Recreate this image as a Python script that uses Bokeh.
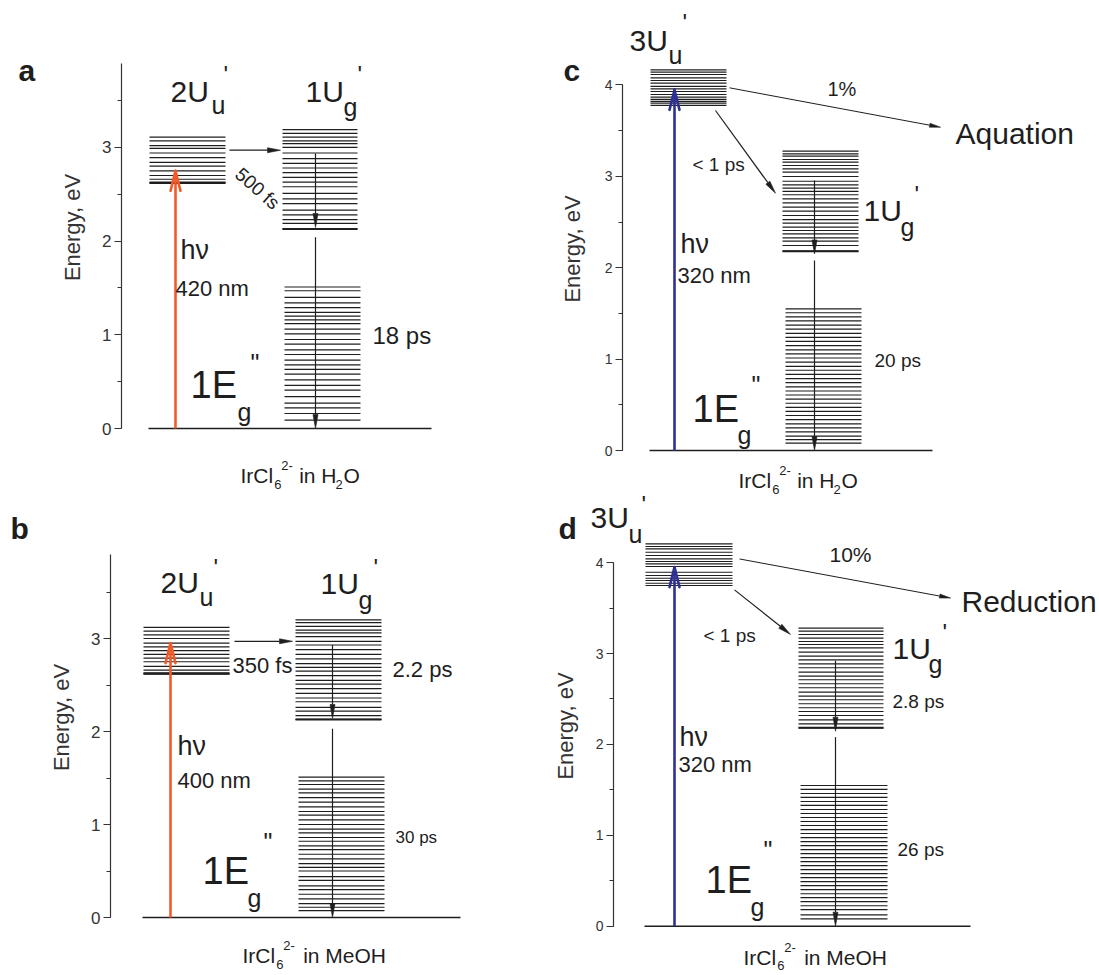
import math
from bokeh.plotting import figure
from bokeh.models import Range1d, SingleIntervalTicker, FixedTicker, Label, LinearAxis
from bokeh.embed import file_html
from bokeh.resources import INLINE

FONT = "Liberation Sans"
INK = "#1e1e1e"
AXC = "#333333"
RED = "#f15a29"
BLUE = "#2e3192"
WIDTH, HEIGHT = 1099, 975

# ---------------- data: energy levels (eV) ----------------
A_2UU = [3.11, 3.07, 3.02, 2.99, 2.94, 2.89, 2.84, 2.80, 2.75, 2.70, 2.66, 2.63, 2.62]
A_1UG = [3.19, 3.15, 3.11, 3.07, 3.04, 3.00, 2.94, 2.88, 2.83, 2.78, 2.73, 2.68, 2.63,
         2.58, 2.51, 2.45, 2.40, 2.33, 2.28, 2.23, 2.19, 2.13]
A_LOW = [1.51, 1.47, 1.40, 1.34, 1.29, 1.24, 1.20, 1.16, 1.12, 1.06, 1.01, 0.95, 0.90,
         0.84, 0.79, 0.73, 0.68, 0.63, 0.58, 0.52, 0.46, 0.41, 0.34, 0.27, 0.22, 0.16, 0.09]

B_2UU = [3.12, 3.08, 3.04, 3.00, 2.95, 2.91, 2.87, 2.83, 2.79, 2.75, 2.70, 2.66, 2.63, 2.62]
B_1UG = [3.20, 3.17, 3.13, 3.09, 3.06, 3.02, 2.97, 2.93, 2.88, 2.83, 2.78, 2.73, 2.69,
         2.65, 2.60, 2.55, 2.51, 2.46, 2.41, 2.36, 2.32, 2.26, 2.22, 2.17, 2.13]
B_LOW = [1.51, 1.47, 1.43, 1.38, 1.34, 1.29, 1.24, 1.19, 1.14, 1.10, 1.05, 1.00, 0.95,
         0.91, 0.86, 0.82, 0.77, 0.73, 0.68, 0.63, 0.58, 0.54, 0.50, 0.44, 0.40, 0.34,
         0.30, 0.25, 0.20, 0.15, 0.11, 0.075]

C_3UU = [4.165, 4.139, 4.114, 4.077, 4.048, 4.019, 3.983, 3.957, 3.928, 3.895, 3.866,
         3.841, 3.819, 3.800, 3.775]
C_1UG = [3.275, 3.246, 3.220, 3.184, 3.154, 3.118, 3.082, 3.045, 2.998, 2.946, 2.907,
         2.870, 2.834, 2.798, 2.754, 2.710, 2.662, 2.618, 2.571, 2.527, 2.487, 2.444,
         2.407, 2.371, 2.327, 2.290, 2.243, 2.181]
C_LOW = [1.550, 1.507, 1.461, 1.419, 1.372, 1.328, 1.281, 1.238, 1.193, 1.147, 1.102,
         1.058, 1.012, 0.967, 0.921, 0.878, 0.832, 0.786, 0.742, 0.697, 0.651, 0.607,
         0.562, 0.517, 0.472, 0.427, 0.383, 0.337, 0.292, 0.248, 0.203, 0.158, 0.119, 0.080]

D_3UU = [4.207, 4.177, 4.152, 4.114, 4.078, 4.041, 4.012, 3.986, 3.957, 3.894, 3.858,
         3.828, 3.803, 3.773, 3.748]
D_1UG = [3.279, 3.246, 3.209, 3.169, 3.132, 3.099, 3.062, 3.015, 2.971, 2.930, 2.886,
         2.843, 2.795, 2.751, 2.711, 2.667, 2.623, 2.575, 2.531, 2.491, 2.447, 2.403,
         2.362, 2.318, 2.270, 2.226, 2.182]
D_LOW = [1.548, 1.505, 1.460, 1.418, 1.372, 1.330, 1.284, 1.240, 1.196, 1.152, 1.108,
         1.063, 1.020, 0.975, 0.931, 0.887, 0.843, 0.799, 0.755, 0.710, 0.667, 0.622,
         0.578, 0.534, 0.490, 0.446, 0.402, 0.357, 0.314, 0.270, 0.225, 0.182, 0.125, 0.080]

GROUND = [0.0]

# transitions (eV)
A_PUMP = [0.0, 2.75]
A_TRANSFER = [2.97, 2.97]
A_RELAX = [[2.935, 2.145], [2.04, 0.0]]
B_PUMP = [0.0, 2.95]
B_TRANSFER = [2.97, 2.97]
B_RELAX = [[2.93, 2.14], [2.03, 0.0]]
C_PUMP = [0.0, 3.946]
C_CHANNEL = [3.968, 3.537]
C_CONVERT = [3.72, 2.815]
C_RELAX = [[2.954, 2.15], [2.079, 0.0]]
D_PUMP = [0.0, 3.95]
D_CHANNEL = [4.04, 3.61]
D_CONVERT = [3.70, 3.21]
D_RELAX = [[2.92, 2.145], [2.08, 0.0]]

# ---------------- layout of the four panels (page pixels) ----------------
PA = dict(name="a", axis_x=121, y0=428, k=93.7, top=3.9, tick=17, lab_lo=0.39, lab_stand=37)
PB = dict(name="b", axis_x=110, y0=917, k=93.0, top=3.9, tick=17, lab_lo=0.40, lab_stand=37)
PC = dict(name="c", axis_x=622, y0=450, k=91.4, top=4.0, tick=14, lab_lo=0.40, lab_stand=38)
PD = dict(name="d", axis_x=613, y0=925.7, k=90.9, top=4.0, tick=14, lab_lo=0.40, lab_stand=36)
PANELS = [PA, PB, PC, PD]

p = figure(width=WIDTH, height=HEIGHT, x_range=Range1d(0, WIDTH), y_range=Range1d(HEIGHT, 0),
           output_backend="svg", toolbar_location=None, title=None,
           x_axis_location=None, y_axis_location=None,
           min_border_left=0, min_border_right=0, min_border_top=0, min_border_bottom=0,
           outline_line_color=None, background_fill_color="white", border_fill_color="white")
p.xgrid.visible = False
p.ygrid.visible = False

for P in PANELS:
    k, y0 = P["k"], P["y0"]
    p.extra_y_ranges[P["name"]] = Range1d(-(HEIGHT - y0) / k, y0 / k)
    # energy axis: line, ticks and tick labels
    ax = LinearAxis(y_range_name=P["name"], fixed_location=P["axis_x"])
    ax.ticker = SingleIntervalTicker(interval=1, num_minor_ticks=2)
    ax.bounds = (0, P["top"])
    ax.axis_line_color = AXC
    ax.axis_line_width = 1.2
    ax.major_tick_line_color = AXC
    ax.minor_tick_line_color = AXC
    ax.major_tick_out = 7
    ax.major_tick_in = 0
    ax.minor_tick_out = 4
    ax.minor_tick_in = 0
    ax.major_label_standoff = 3
    ax.major_label_text_font = FONT
    ax.major_label_text_font_size = f"{P['tick']}px"
    ax.major_label_text_color = AXC
    p.add_layout(ax, "left")
    # axis title, centred a little higher than the axis line as in the original
    mid = (P["lab_lo"] + P["top"]) / 2
    tax = LinearAxis(y_range_name=P["name"], fixed_location=P["axis_x"],
                     ticker=FixedTicker(ticks=[mid]), major_label_overrides={mid: ""})
    tax.bounds = (P["lab_lo"], P["top"])
    tax.axis_line_color = None
    tax.major_tick_line_color = None
    tax.minor_tick_line_color = None
    tax.major_tick_out = 0
    tax.major_tick_in = 0
    tax.minor_tick_out = 0
    tax.minor_tick_in = 0
    tax.major_label_standoff = 0
    tax.axis_label = "Energy, eV"
    tax.axis_label_text_font = FONT
    tax.axis_label_text_font_size = "22px"
    tax.axis_label_text_font_style = "normal"
    tax.axis_label_text_color = AXC
    tax.axis_label_standoff = P["lab_stand"]
    p.add_layout(tax, "left")


def levels(P, xl, xr, vals, lw=1.2, bold_last=False):
    n = len(vals)
    p.segment(x0=[xl] * n, x1=[xr] * n, y0=vals, y1=vals,
              line_color=INK, line_width=lw, y_range_name=P["name"])
    if bold_last:
        p.segment(x0=[xl], x1=[xr], y0=[vals[-1]], y1=[vals[-1]],
                  line_color=INK, line_width=2.0, y_range_name=P["name"])


def arrow(P, x0, e0, x1, e1, color=INK, lw=1.2, hl=14, hw=5, open_head=False):
    k, rn = P["k"], P["name"]
    dx = x1 - x0
    dy = (e1 - e0) * k
    L = math.hypot(dx, dy)
    ux, uy = dx / L, dy / L
    nx, ny = -uy, ux
    tx, ty = x1, e1 * k
    bx, by = tx - hl * ux, ty - hl * uy
    c1x, c1y = bx + hw / 2 * nx, by + hw / 2 * ny
    c2x, c2y = bx - hw / 2 * nx, by - hw / 2 * ny
    if open_head:
        p.segment(x0=[x0], y0=[e0], x1=[tx], y1=[e1], line_color=color, line_width=lw,
                  y_range_name=rn)
        p.segment(x0=[tx, tx], y0=[e1, e1], x1=[c1x, c2x], y1=[c1y / k, c2y / k],
                  line_color=color, line_width=lw, line_cap="round", y_range_name=rn)
    else:
        p.segment(x0=[x0], y0=[e0], x1=[bx], y1=[by / k], line_color=color, line_width=lw,
                  y_range_name=rn)
        p.patch(x=[tx, c1x, c2x], y=[e1, c1y / k, c2y / k], fill_color=color,
                line_color=color, line_width=0.6, y_range_name=rn)


def lab(P, x, y, s, size, bold=False, angle=0.0, align="left", centre=False):
    # y is the text baseline in page pixels (or the centre when centre=True)
    yc = y if centre else y - 0.35 * size
    p.add_layout(Label(x=x, y=(P["y0"] - yc) / P["k"], y_range_name=P["name"], text=s,
                       text_font=FONT, text_font_size=f"{size}px",
                       text_font_style="bold" if bold else "normal",
                       text_color=INK, text_align=align, text_baseline="middle",
                       angle=angle, angle_units="rad"))


def state(P, x, y, main, sub, prime, sub_dx, sub_dy, pr_dx, pr_dy, size=30):
    lab(P, x, y, main, size)
    lab(P, x + sub_dx, y + sub_dy, sub, 25)
    lab(P, x + pr_dx, y + pr_dy, prime, 24)


def formula(P, x, y, solvent, f=21, sub_dy=7):
    w = 1.555 * f
    lab(P, x, y, "IrCl", f)
    lab(P, x + w + 1, y + sub_dy, "6", round(0.62 * f))
    lab(P, x + w + 8, y - 12, "2-", round(0.62 * f))
    if solvent == "H2O":
        xs = x + w + 26
        lab(P, xs, y, "in H", f)
        xs2 = xs + 1.778 * f
        lab(P, xs2 - 1, y + sub_dy, "2", round(0.62 * f))
        lab(P, xs2 + 7, y, "O", f)
    else:
        lab(P, x + w + 28, y, "in " + solvent, f)


# ---------------- panel a ----------------
levels(PA, 148, 431, GROUND, lw=1.6)
levels(PA, 149, 225, A_2UU, bold_last=True)
levels(PA, 282, 357, A_1UG, bold_last=True)
levels(PA, 284, 360, A_LOW)
arrow(PA, 175, A_PUMP[0], 175, A_PUMP[1], color=RED, lw=2.6, hl=20, hw=10, open_head=True)
arrow(PA, 229, A_TRANSFER[0], 280, A_TRANSFER[1], hl=13, hw=5)
for e0, e1 in A_RELAX:
    arrow(PA, 315, e0, 315, e1, hl=14, hw=5)
lab(PA, 18, 80, "a", 30, bold=True)
state(PA, 170, 101, "2U", "u", "'", 41, 12, 53, -19)
state(PA, 305, 101, "1U", "g", "'", 38, 14, 52, -19)
lab(PA, 180, 259, "hν", 27)
lab(PA, 175, 296, "420 nm", 22)
lab(PA, 257, 188, "500 fs", 19, angle=-0.72, align="center", centre=True)
lab(PA, 372, 343, "18 ps", 24)
lab(PA, 190, 398, "1E", 38)
lab(PA, 237, 420, "g", 25)
lab(PA, 250, 371, '"', 25)
formula(PA, 240, 482, "H2O")

# ---------------- panel b ----------------
levels(PB, 142, 460, GROUND, lw=1.6)
levels(PB, 143, 229, B_2UU, bold_last=True)
levels(PB, 295, 381, B_1UG, bold_last=True)
levels(PB, 298, 384, B_LOW)
arrow(PB, 170, B_PUMP[0], 170, B_PUMP[1], color=RED, lw=2.6, hl=20, hw=10, open_head=True)
arrow(PB, 234, B_TRANSFER[0], 292, B_TRANSFER[1], hl=13, hw=5)
for e0, e1 in B_RELAX:
    arrow(PB, 332, e0, 332, e1, hl=14, hw=5)
lab(PB, 10, 538, "b", 30, bold=True)
state(PB, 160, 592, "2U", "u", "'", 39, 13, 53, -17)
state(PB, 320, 593, "1U", "g", "'", 38, 15, 53, -18)
lab(PB, 177, 755, "hν", 27)
lab(PB, 177, 788, "400 nm", 22)
lab(PB, 232, 673, "350 fs", 22)
lab(PB, 392, 677, "2.2 ps", 22)
lab(PB, 395, 843, "30 ps", 17)
lab(PB, 202, 884, "1E", 38)
lab(PB, 247, 906, "g", 25)
lab(PB, 263, 850, '"', 25)
formula(PB, 242, 962, "MeOH")

# ---------------- panel c ----------------
levels(PC, 649, 932, GROUND, lw=1.6)
levels(PC, 650, 726, C_3UU)
levels(PC, 782, 858, C_1UG, bold_last=True)
levels(PC, 785, 861, C_LOW)
arrow(PC, 674, C_PUMP[0], 674, C_PUMP[1], color=BLUE, lw=2.6, hl=20, hw=10, open_head=True)
arrow(PC, 729, C_CHANNEL[0], 940, C_CHANNEL[1], lw=1.0, hl=11, hw=4)
arrow(PC, 715, C_CONVERT[0], 775, C_CONVERT[1], lw=1.2, hl=13, hw=5)
for e0, e1 in C_RELAX:
    arrow(PC, 814, e0, 814, e1, hl=14, hw=5)
lab(PC, 563, 80, "c", 30, bold=True)
state(PC, 629, 50, "3U", "u", "'", 39, 13, 53, -20)
lab(PC, 827, 95, "1%", 20)
lab(PC, 955, 143, "Aquation", 30)
lab(PC, 692, 171, "< 1 ps", 19)
state(PC, 863, 220, "1U", "g", "'", 37, 15, 51, -18)
lab(PC, 680, 253, "hν", 27)
lab(PC, 677, 283, "320 nm", 22)
lab(PC, 874, 367, "20 ps", 19)
lab(PC, 692, 422, "1E", 38)
lab(PC, 737, 443, "g", 25)
lab(PC, 751, 393, '"', 25)
formula(PC, 738, 487, "H2O")

# ---------------- panel d ----------------
levels(PD, 644, 970, GROUND, lw=1.6)
levels(PD, 645, 732, D_3UU)
levels(PD, 798, 883, D_1UG, bold_last=True)
levels(PD, 800, 887, D_LOW)
arrow(PD, 674, D_PUMP[0], 674, D_PUMP[1], color=BLUE, lw=2.6, hl=20, hw=10, open_head=True)
arrow(PD, 739, D_CHANNEL[0], 950, D_CHANNEL[1], lw=1.0, hl=11, hw=4)
arrow(PD, 734, D_CONVERT[0], 790, D_CONVERT[1], lw=1.2, hl=13, hw=5)
for e0, e1 in D_RELAX:
    arrow(PD, 835, e0, 835, e1, hl=14, hw=5)
lab(PD, 558, 538, "d", 30, bold=True)
state(PD, 590, 527, "3U", "u", "'", 38, 15, 51, -15)
lab(PD, 829, 561, "10%", 21)
lab(PD, 961, 611, "Reduction", 30)
lab(PD, 703, 642, "< 1 ps", 19)
state(PD, 892, 658, "1U", "g", "'", 36, 14, 50, -18)
lab(PD, 892, 708, "2.8 ps", 19)
lab(PD, 897, 856, "26 ps", 19)
lab(PD, 679, 746, "hν", 27)
lab(PD, 678, 772, "320 nm", 22)
lab(PD, 705, 893, "1E", 38)
lab(PD, 750, 915, "g", 25)
lab(PD, 763, 858, '"', 25)
formula(PD, 743, 964, "MeOH", sub_dy=6)

open("out.html", "w").write(file_html(p, INLINE))
